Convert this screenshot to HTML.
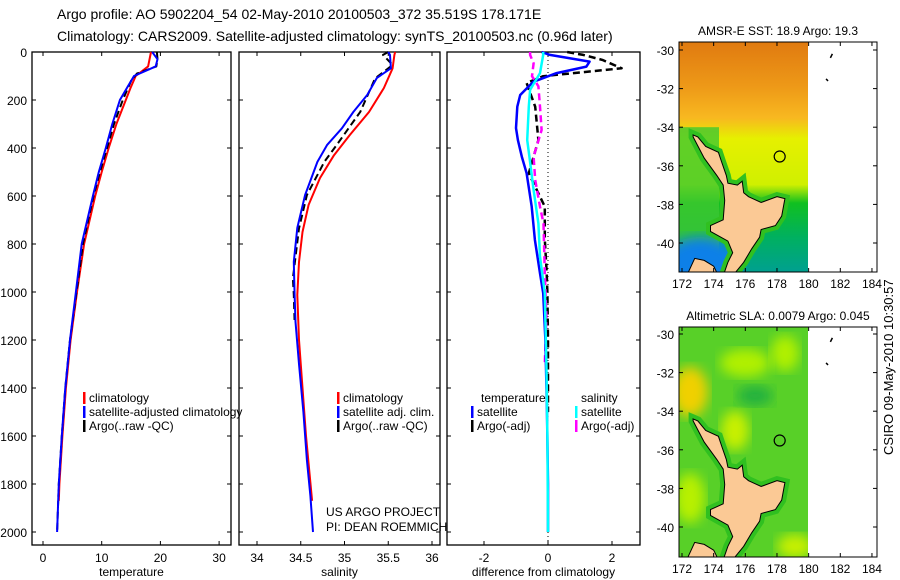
<!DOCTYPE html>
<html><head><meta charset="utf-8"><style>
body{margin:0;background:#fff;}
svg{display:block;font-family:"Liberation Sans",sans-serif;}
</style></head><body>
<svg id="fig" width="900" height="580" viewBox="0 0 900 580">
<defs>
<linearGradient id="sstG" x1="0" y1="0" x2="0" y2="1">
<stop offset="0" stop-color="#e07a10"/><stop offset="0.2" stop-color="#ee9a18"/>
<stop offset="0.33" stop-color="#f8b820"/><stop offset="0.42" stop-color="#e6f000"/>
<stop offset="0.62" stop-color="#d0f000"/><stop offset="0.7" stop-color="#10c020"/>
<stop offset="0.85" stop-color="#00b060"/><stop offset="1" stop-color="#00a090"/>
</linearGradient>
<filter id="bl"><feGaussianBlur stdDeviation="6"/></filter>
</defs>
<text x="57" y="19" font-size="14">Argo profile: AO 5902204_54 02-May-2010 20100503_372 35.519S 178.171E</text>
<text x="57" y="41" font-size="14">Climatology: CARS2009. Satellite-adjusted climatology: synTS_20100503.nc (0.96d later)</text>
<g id="panels"></g>
<g id="maps"></g>
<text transform="translate(893,455) rotate(-90)" font-size="13">CSIRO 09-May-2010 10:30:57</text>
</svg>
<script>
// ---- data ----
const tClimDepth=[0,60,100,150,200,300,400,500,600,800,1000,1200,1400,1600,1800,1870];
const tClim=[18.4,17.9,15.8,14.9,14.1,12.5,11.2,10.0,8.9,7.0,5.8,4.7,3.9,3.3,2.8,2.7];
const tSatDepth=[0,30,60,100,150,200,300,400,500,600,800,1000,1200,1400,1600,1800,2000];
const tSat=[18.6,19.5,19.2,15.5,14.3,13.1,11.8,10.7,9.5,8.5,6.6,5.6,4.6,3.8,3.2,2.7,2.4];
const tArgoDepth=[0,30,60,90,120,200,300,400,500,600,800,1000,1200,1400,1600,1800,2000];
const tArgo=[19.4,19.5,19.3,16.0,15.0,13.6,12.1,10.9,9.7,8.6,6.8,5.7,4.6,3.8,3.2,2.7,2.4];
const sClimDepth=[0,12,68,150,250,346,430,525,637,750,875,1012,1200,1400,1600,1870];
const sClim=[35.58,35.57,35.55,35.45,35.28,35.06,34.88,34.72,34.59,34.52,34.48,34.46,34.48,34.52,34.56,34.63];
const sSatDepth=[0,12,68,108,179,250,318,388,458,596,733,874,1012,1124,1300,1500,1700,1850,2000];
const sSat=[35.5,35.52,35.53,35.37,35.26,35.1,34.97,34.8,34.69,34.55,34.46,34.42,34.43,34.44,34.48,34.53,34.57,34.61,34.64];
const sArgoDepth=[0,12,54,110,249,388,457,596,735,943,1012,1124];
const sArgo=[35.5,35.44,35.55,35.35,35.18,34.91,34.77,34.57,34.48,34.41,34.42,34.43];
const dTSatDepth=[0,12,40,61,88,124,179,228,317,367,436,505,644,783,922,1005,1200,1500,1800,2000];
const dTSat=[-0.2,0.06,1.3,1.2,0.27,-0.46,-0.87,-0.96,-1.0,-0.94,-0.82,-0.67,-0.51,-0.41,-0.25,-0.15,-0.08,-0.03,0,0];
const dTArgoDepth=[0,12,33,68,88,101,129,228,297,367,505,575,644,780,920,1005,1200,1500];
const dTArgo=[0.6,1.1,1.7,2.3,0.8,-0.15,-0.67,-0.4,-0.35,-0.3,-0.6,-0.35,-0.1,-0.1,-0.04,-0.02,0,0];
const dSSatDepth=[0,12,88,158,228,367,436,575,714,853,1005,1300,1600,2000];
const dSSat=[-0.15,-0.15,-0.25,-0.56,-0.6,-0.65,-0.58,-0.45,-0.3,-0.25,-0.1,-0.05,-0.02,0];
const dSArgoDepth=[0,12,47,101,143,228,325,436,533,644,714,922,1100,1300];
const dSArgo=[-0.56,-0.56,-0.45,-0.5,-0.3,-0.25,-0.2,-0.45,-0.4,-0.25,-0.14,-0.1,-0.05,-0.1];
const depthTicks=[0,200,400,600,800,1000,1200,1400,1600,1800,2000];
const tTicks=[0,10,20,30];
const sTicks=[34,34.5,35,35.5,36];
const dTicks=[-2,0,2];
const latTicks=[-30,-32,-34,-36,-38,-40];
const lonTicks=[172,174,176,178,180,182,184];

const NS='http://www.w3.org/2000/svg';
function mk(tag,attrs,parent){const e=document.createElementNS(NS,tag);for(const k in attrs)e.setAttribute(k,attrs[k]);parent.appendChild(e);return e;}
const yD=d=>52+d*0.24;
const xT=t=>43+t*5.87;
const xS=s=>257+(s-34)*87.5;
const xDf=v=>548+v*32;
const panelsG=document.getElementById('panels');

function panel(name,x0,x1,ticks,xf,xlabel,showY){
  const g=mk('g',{},panelsG);
  
  
  const fr=mk('rect',{x:x0,y:52,width:x1-x0,height:493,fill:'none',stroke:'#000','stroke-width':1.3},g);
  
  
  depthTicks.forEach(d=>{
    mk('line',{x1:x0,x2:x0+4,y1:yD(d),y2:yD(d),stroke:'#000'},g);
    mk('line',{x1:x1-4,x2:x1,y1:yD(d),y2:yD(d),stroke:'#000'},g);
    if(showY){const t=mk('text',{x:x0-5,y:yD(d)+5,'font-size':12,'text-anchor':'end'},g);t.textContent=d;
      
      }
  });
  ticks.forEach(v=>{
    const x=xf(v);
    mk('line',{x1:x,x2:x,y1:545,y2:541,stroke:'#000'},g);
    mk('line',{x1:x,x2:x,y1:52,y2:56,stroke:'#000'},g);
    const t=mk('text',{x:x,y:562,'font-size':12,'text-anchor':'middle'},g);t.textContent=v;
    
    
  });
  const l=mk('text',{x:(x0+x1)/2,y:576,'font-size':12,'text-anchor':'middle'},g);l.textContent=xlabel;
  
  
  return g;
}
function line(g,name,depths,vals,xf,color,dash,w){
  const p=depths.map((d,i)=>(i?'L':'M')+xf(vals[i]).toFixed(1)+','+yD(d).toFixed(1)).join('');
  const e=mk('path',{d:p,fill:'none',stroke:color,'stroke-width':w||2,'stroke-dasharray':dash||'none','stroke-linejoin':'round'},g);
  
  
}
function leg(g,x,y,color,label){
  const b=mk('rect',{x:x,y:y-10,width:2.5,height:12,fill:color},g);
  
  
  const t=mk('text',{x:x+6,y:y,'font-size':12},g);t.textContent=label;
  
  
}
const g1=panel('temperature-panel',32,231,tTicks,xT,'temperature',true);
line(g1,'temp-climatology-line',tClimDepth,tClim,xT,'#f00');
line(g1,'temp-argo-line',tArgoDepth,tArgo,xT,'#000','7,4');
line(g1,'temp-satellite-line',tSatDepth,tSat,xT,'#00f');
leg(g1,83,402,'#f00','climatology');
leg(g1,83,416,'#00f','satellite-adjusted climatology');
leg(g1,83,430,'#000','Argo(..raw -QC)');
const g2=panel('salinity-panel',239,440,sTicks,xS,'salinity',false);
line(g2,'sal-climatology-line',sClimDepth,sClim,xS,'#f00');
line(g2,'sal-argo-line',sArgoDepth,sArgo,xS,'#000','7,4');
line(g2,'sal-satellite-line',sSatDepth,sSat,xS,'#00f');
leg(g2,337,402,'#f00','climatology');
leg(g2,337,416,'#00f','satellite adj. clim.');
leg(g2,337,430,'#000','Argo(..raw -QC)');
[['US ARGO PROJECT',516],['PI: DEAN ROEMMICH',531]].forEach(a=>{const t=mk('text',{x:326,y:a[1],'font-size':12},g2);t.textContent=a[0];
  
  });
const g3=panel('difference-panel',447,640,dTicks,xDf,'difference from climatology',false);
mk('line',{x1:548,x2:548,y1:52,y2:545,stroke:'#000','stroke-dasharray':'1,3'},g3);
line(g3,'diff-temp-argo-line',dTArgoDepth,dTArgo,xDf,'#000','7,4',2.5);
line(g3,'diff-sal-argo-line',dSArgoDepth,dSArgo,xDf,'#f0f','7,4',2.5);
line(g3,'diff-temp-satellite-line',dTSatDepth,dTSat,xDf,'#00f',null,2.5);
line(g3,'diff-sal-satellite-line',dSSatDepth,dSSat,xDf,'#0ff',null,2.5);
[['temperature',481,402],['salinity',581,402]].forEach(a=>{const t=mk('text',{x:a[1],y:a[2],'font-size':12},g3);t.textContent=a[0];
  
  });
leg(g3,471,416,'#00f','satellite');
leg(g3,471,430,'#000','Argo(-adj)');
leg(g3,575,416,'#0ff','satellite');
leg(g3,575,430,'#f0f','Argo(-adj)');

// maps
const mapsG=document.getElementById('maps');
const nz=[[172.7,-34.4],[173.0,-34.5],[173.5,-35.0],[174.3,-35.3],[174.5,-35.8],[174.8,-36.5],[174.9,-36.9],[175.5,-37.0],[175.8,-36.8],[175.9,-37.4],[176.2,-37.6],[177,-37.9],[178.0,-37.6],[178.5,-37.7],[178.3,-38.6],[177.9,-39.1],[177.0,-39.3],[176.9,-39.7],[176.4,-40.3],[175.9,-41.0],[175.2,-41.7],[174.6,-41.7],[174.9,-41.0],[175.2,-40.5],[174.9,-39.9],[173.8,-39.4],[173.8,-39.1],[174.6,-38.8],[174.7,-37.8],[174.6,-37.0],[174.2,-36.5],[173.4,-35.6],[172.7,-34.5]];
const si=[[172.3,-41.7],[172.8,-40.8],[173.4,-40.9],[174.0,-41.2],[174.3,-41.7]];
function map(name,top,lat30,title,isSst){
  const g=mk('g',{},mapsG);
  
  
  const lx=v=>682+(v-172)*15.83;
  const ly=v=>lat30+(-30-v)*19.3;
  const bottom=top+230;
  const cp='cp'+name;
  const c=mk('clipPath',{id:cp},g);mk('rect',{x:679,y:top,width:129,height:230},c);
  const dg=mk('g',{'clip-path':'url(#'+cp+')'},g);
  if(isSst){
    mk('rect',{x:679,y:top,width:129,height:230,fill:'url(#sstG)'},dg);
    mk('rect',{x:679,y:ly(-34),width:40,height:bottom-ly(-34),fill:'#40c830',opacity:0.8},dg);
    mk('ellipse',{cx:700,cy:bottom-5,rx:40,ry:30,fill:'#1080e8',filter:'url(#bl)'},dg);
  }else{
    mk('rect',{x:679,y:top,width:129,height:230,fill:'#58d028'},dg);
    [[690,ly(-33),18,25,'#f0d000'],[745,ly(-31.5),25,14,'#b0f000'],[735,ly(-35),14,20,'#c8f000'],[785,ly(-31),14,18,'#b0f000'],[690,ly(-38.5),15,25,'#b8f000'],[795,ly(-41),18,12,'#c8f000'],[755,ly(-33.2),18,10,'#20b040']].forEach(e=>mk('ellipse',{cx:e[0],cy:e[1],rx:e[2],ry:e[3],fill:e[4],filter:'url(#bl)'},dg));
  }
  const toP=a=>a.map((p,i)=>(i?'L':'M')+lx(p[0]).toFixed(1)+','+ly(p[1]).toFixed(1)).join('')+'Z';
  mk('path',{d:toP(nz),fill:'none',stroke:'#30c020','stroke-width':9},dg);
  const land=mk('path',{d:toP(nz)+toP(si),fill:'#fbc995',stroke:'#000','stroke-width':1},dg);
  
  
  const fr=mk('rect',{x:679,y:top,width:198,height:230,fill:'none',stroke:'#000'},g);
  
  
  const m=mk('circle',{cx:lx(178.171),cy:ly(-35.519),r:5.5,fill:'none',stroke:'#000','stroke-width':1.2},g);
  
  
  mk('path',{d:`M${lx(181.5)},${ly(-30.2)}l-2,4M${lx(181.1)},${ly(-31.5)}l2,2`,stroke:'#000','stroke-width':1.5},g);
  latTicks.forEach(v=>{
    mk('line',{x1:679,x2:683,y1:ly(v),y2:ly(v),stroke:'#000'},g);
    mk('line',{x1:873,x2:877,y1:ly(v),y2:ly(v),stroke:'#000'},g);
    const t=mk('text',{x:674,y:ly(v)+5,'font-size':12,'text-anchor':'end'},g);t.textContent=v;
    
    
  });
  lonTicks.forEach(v=>{
    mk('line',{x1:lx(v),x2:lx(v),y1:bottom,y2:bottom-4,stroke:'#000'},g);
    mk('line',{x1:lx(v),x2:lx(v),y1:top,y2:top+4,stroke:'#000'},g);
    const t=mk('text',{x:lx(v),y:bottom+16,'font-size':12,'text-anchor':'middle'},g);t.textContent=v;
    
    
  });
  const tt=mk('text',{x:778,y:top-7,'font-size':12,'text-anchor':'middle'},g);tt.textContent=title;
  
  
}
map('sst-map',42,50,'AMSR-E SST: 18.9 Argo: 19.3',true);
map('sla-map',327,334,'Altimetric SLA: 0.0079 Argo: 0.045',false);
</script>
</body></html>
